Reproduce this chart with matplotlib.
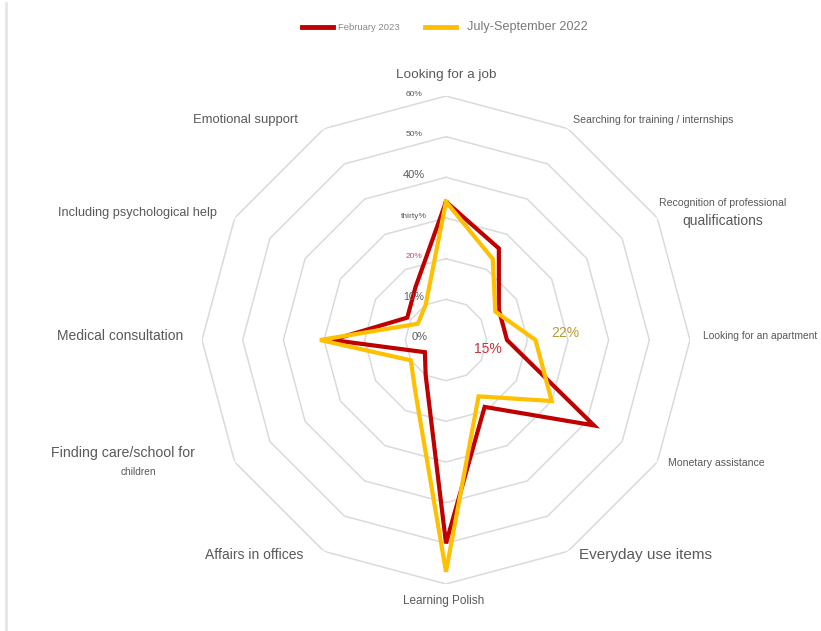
import numpy as np
import matplotlib
matplotlib.use("Agg")
import matplotlib.pyplot as plt
from matplotlib.lines import Line2D

plt.rcParams['font.family'] = ['Liberation Sans', 'DejaVu Sans']

# categories clockwise from the top
categories = ["Looking for a job", "Searching for training / internships",
              "Recognition of professional qualifications", "Looking for an apartment",
              "Monetary assistance", "Everyday use items", "Learning Polish",
              "Affairs in offices", "Finding care/school for children",
              "Medical consultation", "Including psychological help", "Emotional support"]
feb_2023 = [34, 26, 15, 15, 42, 19, 50, 10, 6, 28, 11, 15]
jul_sep_2022 = [34, 23, 14, 22, 30, 16, 57, 15, 10, 31, 8, 10]
ring_levels = [10, 20, 30, 40, 50, 60]
ring_labels = ["10%", "20%", "thirty%", "40%", "50%", "60%"]

RED = '#c00000'
YELLOW = '#ffc000'
TXT = '#595959'

W, H = 821, 631
fig = plt.figure(figsize=(W / 100, H / 100), dpi=100)
fig.patch.set_facecolor('white')


def fx(px):
    return px / W


def fy(py):
    return 1 - py / H


# polar axes centred at (446, 340) px, radius 244 px for 60%
cx, cy, R = 446, 340, 244
ax = fig.add_axes([fx(cx - R), fy(cy + R), 2 * R / W, 2 * R / H], projection='polar')
ax.set_theta_zero_location('N')
ax.set_theta_direction(-1)
ax.set_ylim(0, 60)
ax.grid(False)
ax.spines['polar'].set_visible(False)
ax.set_xticks([])
ax.set_yticks([])
ax.patch.set_alpha(0)

theta = np.linspace(0, 2 * np.pi, len(categories), endpoint=False)
theta_c = np.append(theta, theta[0])

for lv in ring_levels:
    ax.plot(theta_c, [lv] * len(theta_c), color='#dadada', lw=1.1, zorder=1)

ax.plot(theta_c, feb_2023 + feb_2023[:1], color=RED, lw=3, zorder=3,
        solid_joinstyle='miter')
ax.plot(theta_c, jul_sep_2022 + jul_sep_2022[:1], color=YELLOW, lw=3, zorder=4,
        solid_joinstyle='miter')

# ring value labels, placed left of the top vertex
tick_style = {"60%": (6, TXT), "50%": (6, TXT), "40%": (8, TXT), "thirty%": (6, TXT),
              "20%": (6, '#c8505a'), "10%": (7.5, TXT)}
for lv, lab in zip(ring_levels, ring_labels):
    size, col = tick_style[lab]
    ax.annotate(lab, xy=(0, lv), xytext=(-32, 2), textcoords='offset pixels',
                ha='center', va='center', fontsize=size, color=col)
ax.annotate("0%", xy=(0, 0), xytext=(-26, 3), textcoords='offset pixels',
            ha='center', va='center', fontsize=8, color=TXT)

# value callouts for "Looking for an apartment"
ax.annotate(f"{feb_2023[3]}%", xy=(theta[3], feb_2023[3]), xytext=(-19, -9),
            textcoords='offset pixels', ha='center', va='center', fontsize=10, color='#c8303a')
ax.annotate(f"{jul_sep_2022[3]}%", xy=(theta[3], jul_sep_2022[3]), xytext=(30, 7),
            textcoords='offset pixels', ha='center', va='center', fontsize=10, color='#b89a30')

# category labels (position, size)
labels = [
    ("Looking for a job", 446, 75, 9.7),
    ("Searching for training / internships", 653, 120, 7.6),
    ("Recognition of professional", 723, 203, 7.6),
    ("qualifications", 723, 221, 10),
    ("Looking for an apartment", 760, 336, 7.4),
    ("Monetary assistance", 716, 463, 7.6),
    ("Everyday use items", 645, 555, 11),
    ("Learning Polish", 444, 601, 8.5),
    ("Affairs in offices", 254, 555, 10),
    ("Finding care/school for", 123, 453, 10.2),
    ("children", 138, 472, 7.3),
    ("Medical consultation", 120, 336, 10),
    ("Including psychological help", 137, 213, 9.2),
    ("Emotional support", 245, 120, 9.4),
]
for txt, x, y, s in labels:
    fig.text(fx(x), fy(y), txt, ha='center', va='center', fontsize=s, color=TXT)

# legend
fig.add_artist(Line2D([fx(302), fx(333)], [fy(27), fy(27)], color=RED, lw=3.5))
fig.text(fx(338), fy(27), "February 2023", ha='left', va='center', fontsize=6.8, color='#8a8a8a')
fig.add_artist(Line2D([fx(425), fx(456)], [fy(27), fy(27)], color=YELLOW, lw=3.5))
fig.text(fx(467), fy(27), "July-September 2022", ha='left', va='center', fontsize=9.1, color='#7a7a7a')

# left border
fig.add_artist(Line2D([fx(6), fx(6)], [fy(3), 0], color='#e6e6e6', lw=2))

fig.savefig('out.png', dpi=100)
